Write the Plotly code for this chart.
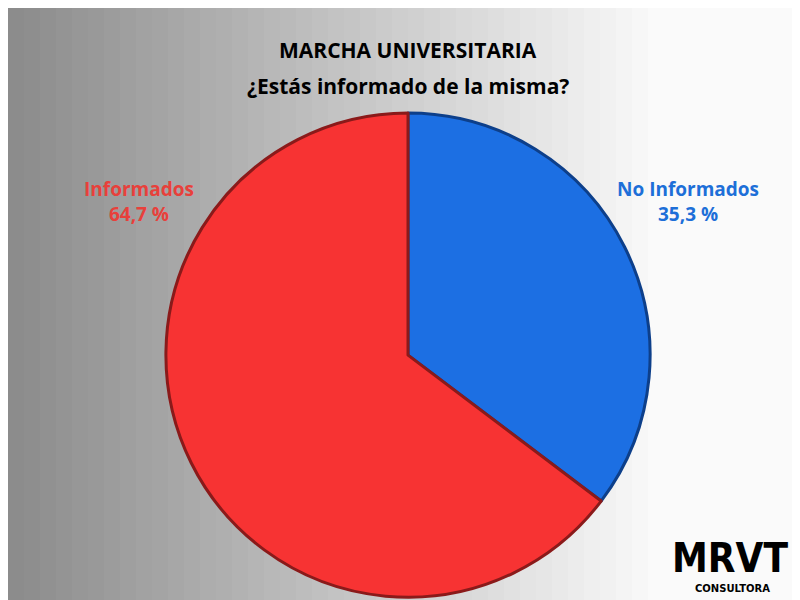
import plotly.graph_objects as go

labels = ["No Informados", "Informados"]
values = [35.3, 64.7]
colors = ["#1c6fe3", "#f73333"]
borders = ["#0d3f8a", "#8a1a1a"]
label_text = ["No Informados<br>35,3 %", "Informados<br>64,7 %"]
label_colors = ["#1d6fd8", "#e8403b"]

fig = go.Figure(go.Pie(
    labels=labels, values=values, sort=False, direction="clockwise", rotation=0,
    marker=dict(colors=colors, line=dict(color=borders, width=3)),
    textinfo="none", hoverinfo="label+percent", showlegend=False,
    domain=dict(x=[0.195, 0.805], y=[0.018, 0.825]),
))

# grey-to-white background gradient
shapes = []
n = 50
for i in range(n):
    g = int(140 + (250 - 140) * min(1, i / (n * 0.8)))
    shapes.append(dict(type="rect", xref="paper", yref="paper", layer="below",
                       x0=i / n, x1=(i + 1) / n + 0.002, y0=0, y1=1,
                       line=dict(width=0), fillcolor=f"rgb({g},{g},{g})"))

annotations = [
    dict(text="<b>MARCHA UNIVERSITARIA</b>", x=0.5, y=1 - 42 / 600,
         font=dict(size=21, color="black")),
    dict(text="<b>¿Estás informado de la misma?</b>", x=0.5, y=1 - 78 / 600,
         font=dict(size=21, color="black")),
    dict(text=f"<b>{label_text[0]}</b>", x=680 / 800, y=1 - 193 / 600,
         font=dict(size=19, color=label_colors[0])),
    dict(text=f"<b>{label_text[1]}</b>", x=131 / 800, y=1 - 193 / 600,
         font=dict(size=19, color=label_colors[1])),
    dict(text="<b>MRVT</b>", x=722 / 800, y=1 - 550 / 600,
         font=dict(size=40, color="black", family="DejaVu Sans Condensed")),
    dict(text="<b>CONSULTORA</b>", x=724 / 800, y=1 - 580 / 600,
         font=dict(size=10, color="black", family="DejaVu Sans")),
]
for a in annotations:
    a.update(xref="paper", yref="paper", xanchor="center", yanchor="middle", showarrow=False)

fig.update_layout(
    width=800, height=600, margin=dict(l=0, r=0, t=0, b=0),
    paper_bgcolor="white", shapes=shapes, annotations=annotations,
    font=dict(family="Open Sans"),
)
fig.write_html("out.html")
